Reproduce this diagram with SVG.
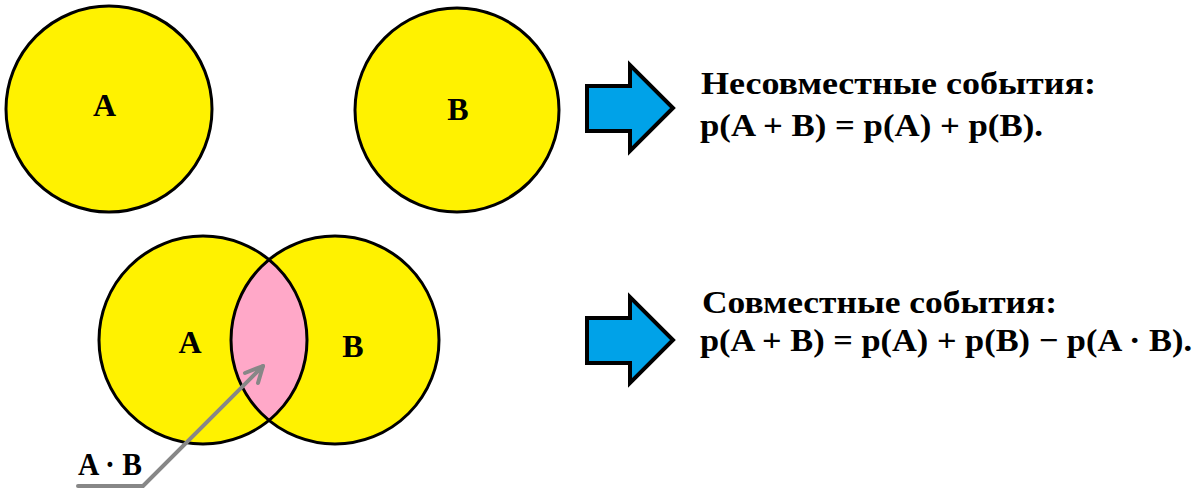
<svg xmlns="http://www.w3.org/2000/svg" width="1200" height="491" viewBox="0 0 1200 491">
<style>
.c{fill:#fff200;stroke:none}
.o{fill:none;stroke:#000;stroke-width:3}
.lbl{font-family:"Liberation Serif","DejaVu Serif",serif;font-weight:bold;font-size:32px;fill:#000}
.t{font-family:"Liberation Serif","DejaVu Serif",serif;font-weight:bold;font-size:32px;fill:#000}
.arr{fill:#00a2e8;stroke:#000;stroke-width:4;stroke-linejoin:miter}
.ptr{fill:none;stroke:#878787;stroke-width:4;stroke-linecap:round;stroke-linejoin:round}
</style>
<rect width="1200" height="491" fill="#fff"/>
<g id="circleA_top">
<circle class="c" cx="109" cy="109" r="103"/>
<circle class="o" cx="109" cy="109" r="103"/>
<text class="lbl" x="104.5" y="116" text-anchor="middle">A</text>
</g>
<g id="circleB_top">
<circle class="c" cx="457" cy="110" r="102"/>
<circle class="o" cx="457" cy="110" r="102"/>
<text class="lbl" x="458" y="120" text-anchor="middle">B</text>
</g>
<g id="venn">
<circle class="c" cx="203" cy="340" r="104"/>
<circle class="c" cx="335" cy="340" r="104"/>
<path d="M269,260.4 A104,104 0 0 0 269,419.6 A104,104 0 0 0 269,260.4 Z" fill="#ffa8c8"/>
<circle class="o" cx="203" cy="340" r="104"/>
<circle class="o" cx="335" cy="340" r="104"/>
<text class="lbl" x="190" y="353" text-anchor="middle">A</text>
<text class="lbl" x="353" y="357" text-anchor="middle">B</text>
</g>
<g id="label_AB">
<text class="lbl" x="78" y="475" textLength="64" lengthAdjust="spacingAndGlyphs">A · B</text>
</g>
<g id="connectors">
<polyline class="ptr" points="78,486 143,486 263,366"/>
<polyline class="ptr" points="245,373 263,366 258,383"/>
</g>
<g id="arrow_top">
<path class="arr" d="M587,86 L630,86 L630,65 L673,108 L630,151 L630,131 L587,131 Z"/>
</g>
<g id="arrow_bottom">
<path class="arr" d="M587,318 L630,318 L630,297 L673,340 L630,383 L630,363 L587,363 Z"/>
</g>
<g id="text_top">
<text class="t" x="701" y="94" textLength="395" lengthAdjust="spacingAndGlyphs">Несовместные события:</text>
<text class="t" x="700" y="136" textLength="343" lengthAdjust="spacingAndGlyphs">p(A + B) = p(A) + p(B).</text>
</g>
<g id="text_bottom">
<text class="t" x="702" y="313" textLength="355" lengthAdjust="spacingAndGlyphs">Совместные события:</text>
<text class="t" x="700" y="351" textLength="492" lengthAdjust="spacingAndGlyphs">p(A + B) = p(A) + p(B) − p(A · B).</text>
</g>
</svg>
